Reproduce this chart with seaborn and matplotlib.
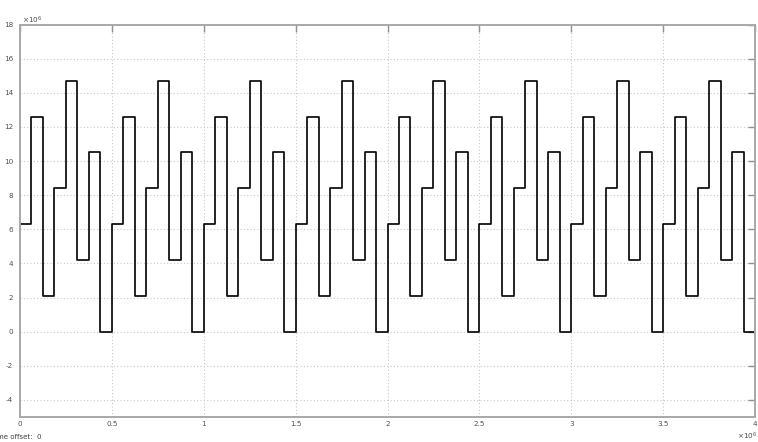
import numpy as np
import pandas as pd
import matplotlib
matplotlib.use("Agg")
import matplotlib.pyplot as plt
import seaborn as sns
from matplotlib.ticker import FuncFormatter, MultipleLocator

# Output levels of one cycle of the staircase signal (units of 1e6)
cycle_levels = [6.3, 12.6, 2.1, 8.4, 14.7, 4.2, 10.5, 0.0]
n_cycles = 8
step_duration = 0.0625          # hold time of each level (units of 1e6)
levels = np.tile(cycle_levels, n_cycles)
times = np.arange(len(levels)) * step_duration

# close the last hold interval at the end of the run
t_end = 4.0
times = np.append(times, t_end)
levels = np.append(levels, levels[-1])

df = pd.DataFrame({"t": times, "y": levels})

sns.set_theme(style="white")
plt.rcParams["font.family"] = ["DejaVu Sans"]

fig = plt.figure(figsize=(7.58, 4.42), dpi=100)
ax = fig.add_axes([20 / 758, 1 - 417 / 442, 735 / 758, (417 - 24.5) / 442])

sns.lineplot(data=df, x="t", y="y", drawstyle="steps-post",
             color="black", linewidth=1.2, ax=ax, estimator=None)

ax.set_xlim(0, 4.0)
ax.set_ylim(-5, 18)
ax.xaxis.set_major_locator(MultipleLocator(0.5))
ax.yaxis.set_major_locator(MultipleLocator(2))
fmt = FuncFormatter(lambda v, p: f"{v:g}")
ax.xaxis.set_major_formatter(fmt)
ax.yaxis.set_major_formatter(fmt)

ax.set_xlabel("")
ax.set_ylabel("")
ax.grid(True, color="#c8c8c8", linestyle=(0, (1, 2)), linewidth=0.8)

for s in ax.spines.values():
    s.set_color("#a8a8a8")
    s.set_linewidth(1.4)

ax.tick_params(axis="both", direction="in", length=5, width=1,
               color="#909090", labelsize=5.2, labelcolor="#505050",
               top=True, right=True)
ax.tick_params(axis="y", pad=5)
ax.tick_params(axis="x", pad=3)

txt = dict(fontsize=5.2, color="#505050")
# scale factors of the two axes
fig.text(22 / 758, 1 - 23 / 442, r"$\times10^{6}$", **txt)
fig.text(737 / 758, 1 - 439 / 442, r"$\times10^{6}$", **txt)

fig.text(-0.012, 1 - 439 / 442, "Time offset:  0", fontsize=5, color="#404040")

fig.savefig("out.png", dpi=100, facecolor="white")
